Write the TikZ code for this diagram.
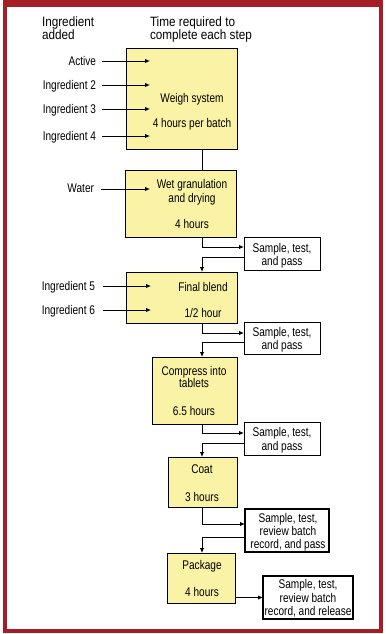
\documentclass[tikz,border=0pt]{standalone}
\usepackage{fontspec}
\setmainfont[FakeStretch=0.8]{Liberation Sans}
\newfontfamily\hdrfont[FakeStretch=0.87]{Liberation Sans}
\usetikzlibrary{arrows.meta}
\definecolor{framered}{RGB}{165,29,37}
\definecolor{boxyellow}{RGB}{250,243,165}
\begin{document}
\begin{tikzpicture}[x=1pt,y=-1pt,
 lbl/.style={inner sep=0pt,outer sep=0pt,text height=9pt,text depth=0pt,font=\fontsize{12.6}{13}\selectfont},
 hdr/.style={inner sep=0pt,outer sep=0pt,text height=9.6pt,text depth=0pt,anchor=west,font=\hdrfont\fontsize{13.5}{14}\selectfont},
 box/.style={draw,fill=boxyellow,line width=0.9pt,inner sep=0pt,outer sep=0pt,anchor=north west},
 sbox/.style={draw,fill=white,line width=0.9pt,inner sep=0pt,outer sep=0pt,anchor=north west},
 tbox/.style={sbox,line width=2.5pt},
 conn/.style={line width=0.9pt},
 arr/.style={conn,-{Latex[length=5pt,width=4.5pt]}},
]
\useasboundingbox (0,0) rectangle (387,634);
\fill[white] (0,0) rectangle (387,634);
\fill[framered] (3,0) rectangle (383,633);
\fill[white] (7,7) rectangle (378.5,629);

% headers
\node[hdr] (h1) at (42,22) {Ingredient};
\node[hdr] (h2) at (42,35) {added};
\node[hdr] (h3) at (150,22) {Time required to};
\node[hdr] (h4) at (150,35) {complete each step};

% process boxes
\node[box,minimum width=111pt,minimum height=101pt] (ws) at (126,48) {};
\node[box,minimum width=111pt,minimum height=67pt] (wg) at (125,170) {};
\node[sbox,minimum width=76pt,minimum height=33pt] (s1) at (244,237) {};
\node[box,minimum width=111pt,minimum height=51pt] (fb) at (126,272) {};
\node[sbox,minimum width=76pt,minimum height=32pt] (s2) at (244,322) {};
\node[box,minimum width=85pt,minimum height=67pt] (ct) at (152,357) {};
\node[sbox,minimum width=76pt,minimum height=33pt] (s3) at (244,422) {};
\node[box,minimum width=69pt,minimum height=50pt] (co) at (168,457) {};
\node[tbox,minimum width=84pt,minimum height=43pt] (s4) at (245,509) {};
\node[box,minimum width=68pt,minimum height=50pt] (pk) at (167,553) {};
\node[tbox,minimum width=90pt,minimum height=43pt] (s5) at (263,576) {};

% box texts
\node[lbl] (t1a) at (192,98) {Weigh system};
\node[lbl] (t1b) at (192,123) {4 hours per batch};
\node[lbl] (t2a) at (192,184) {Wet granulation};
\node[lbl] (t2b) at (192,198) {and drying};
\node[lbl] (t2c) at (192,224) {4 hours};
\node[lbl] (t3a) at (203,287) {Final blend};
\node[lbl] (t3b) at (203,313) {1/2 hour};
\node[lbl] (t4a) at (194,371) {Compress into};
\node[lbl] (t4b) at (194,383) {tablets};
\node[lbl] (t4c) at (194,411) {6.5 hours};
\node[lbl] (t5a) at (202,469) {Coat};
\node[lbl] (t5b) at (202,497) {3 hours};
\node[lbl] (t6a) at (202,565) {Package};
\node[lbl] (t6b) at (202,592) {4 hours};

\node[lbl] (u1a) at (282,248) {Sample, test,};
\node[lbl] (u1b) at (282,261) {and pass};
\node[lbl] (u2a) at (282,332) {Sample, test,};
\node[lbl] (u2b) at (282,345) {and pass};
\node[lbl] (u3a) at (282,432) {Sample, test,};
\node[lbl] (u3b) at (282,446) {and pass};
\node[lbl] (u4a) at (288,518) {Sample, test,};
\node[lbl] (u4b) at (288,531) {review batch};
\node[lbl] (u4c) at (288,544) {record, and pass};
\node[lbl] (u5a) at (308,584) {Sample, test,};
\node[lbl] (u5b) at (308,598) {review batch};
\node[lbl] (u5c) at (308,611) {record, and release};

% ingredient labels
\node[lbl,anchor=east] (i1) at (96,61) {Active};
\node[lbl,anchor=east] (i2) at (96,85) {Ingredient 2};
\node[lbl,anchor=east] (i3) at (96,109) {Ingredient 3};
\node[lbl,anchor=east] (i4) at (96,136) {Ingredient 4};
\node[lbl,anchor=east] (iw) at (94,188) {Water};
\node[lbl,anchor=east] (i5) at (95,286) {Ingredient 5};
\node[lbl,anchor=east] (i6) at (95,310) {Ingredient 6};

\coordinate (tipa) at (150,0);
\coordinate (tipb) at (151,0);
\coordinate (sp) at (202,0);

% input arrows
\foreach \n in {i1,i2,i3,i4}
  \draw[arr] ([xshift=6pt]\n.east) -- (\n.east -| tipa);
\draw[arr] ([xshift=7pt,yshift=-1pt]iw.east) -- ([yshift=-1pt]iw.east -| tipa);
\draw[arr] ([xshift=8pt]i5.east) -- (i5.east -| tipb);
\draw[arr] ([xshift=8pt]i6.east) -- (i6.east -| tipb);

% main flow
\draw[conn] (ws.south -| sp) -- (wg.north -| sp);
\draw[arr] (wg.south -| sp) |- ([yshift=6.5pt]s1.west);
\draw[arr] ([yshift=-3.5pt]s1.west) -| (fb.north -| sp);
\draw[arr] (fb.south -| sp) |- ([yshift=5pt]s2.west);
\draw[arr] ([yshift=-4pt]s2.west) -| (ct.north -| sp);
\draw[arr] (ct.south -| sp) |- ([yshift=5.5pt]s3.west);
\draw[arr] ([yshift=-4.5pt]s3.west) -| (co.north -| sp);
\draw[arr] (co.south -| sp) |- ([yshift=6.5pt]s4.west);
\draw[arr] ([yshift=-6.5pt]s4.west) -| (pk.north -| sp);
\draw[arr] (s5.west -| pk.east) -- (s5.west);
\end{tikzpicture}
\end{document}
